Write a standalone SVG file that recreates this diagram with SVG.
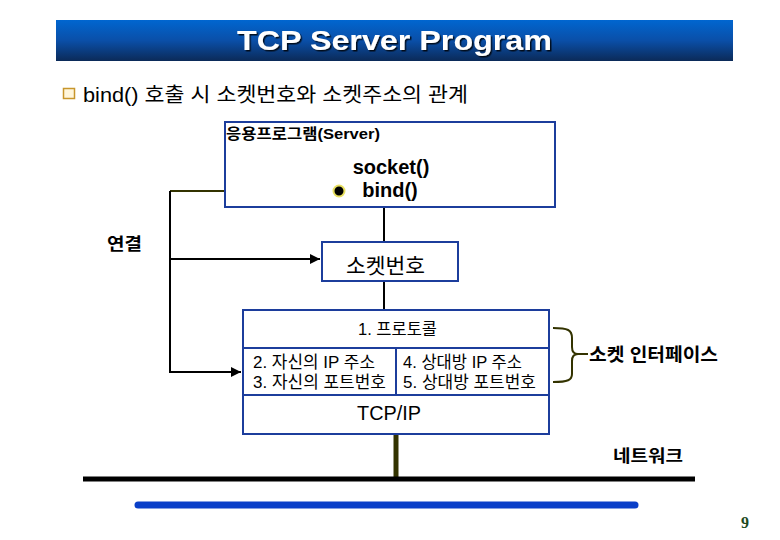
<svg xmlns="http://www.w3.org/2000/svg" width="780" height="540" viewBox="0 0 780 540">
<defs>
<linearGradient id="tg" x1="0" y1="0" x2="0" y2="1">
<stop offset="0" stop-color="#0066d0"/>
<stop offset="0.5" stop-color="#0a4fa8"/>
<stop offset="1" stop-color="#0b2a58"/>
</linearGradient>
<filter id="sh" x="-5%" y="-20%" width="110%" height="150%">
<feDropShadow dx="1.5" dy="1.5" stdDeviation="0.6" flood-color="#000" flood-opacity="0.8"/>
</filter>
<marker id="ah" viewBox="0 0 10 10" refX="10" refY="5" markerWidth="5" markerHeight="5" orient="auto" markerUnits="strokeWidth">
<path d="M0,0 L10,5 L0,10 z" fill="#000"/>
</marker>
</defs>
<style>
.k{font-family:"Liberation Sans","Noto Sans CJK KR",sans-serif;fill:#000}
.b{font-weight:bold}
.box{fill:#fff;stroke:#1c3d9c;stroke-width:2}
.ln{fill:none;stroke:#000;stroke-width:2}
.ol{fill:none;stroke:#333300;stroke-width:2}
.st{font-size:16.5px}
</style>
<rect width="780" height="540" fill="#fff"/>
<g id="title">
<rect x="56" y="20" width="677" height="41" fill="url(#tg)"/>
<text x="237" y="50" class="k b" style="font-size:28px;fill:#fff" filter="url(#sh)" textLength="315" lengthAdjust="spacingAndGlyphs">TCP Server Program</text>
</g>
<g id="heading">
<rect x="63.5" y="88.5" width="11" height="10" fill="#fff6dc" stroke="#c8962c" stroke-width="1.5"/>
<text x="83" y="102" class="k" style="font-size:20px" textLength="385" lengthAdjust="spacingAndGlyphs">bind() 호출 시 소켓번호와 소켓주소의 관계</text>
</g>
<g id="connectors">
<line x1="384" y1="207" x2="384" y2="242" class="ln"/>
<line x1="384" y1="281" x2="384" y2="310" class="ln"/>
<polyline points="339,191 170,191" class="ol"/>
<polyline points="170,191 170,372 241,372" class="ln" marker-end="url(#ah)"/>
<polyline points="170,259 320,259" class="ln" marker-end="url(#ah)"/>
<line x1="396" y1="434" x2="396" y2="479" stroke="#333300" stroke-width="5"/>
<path d="M553,328 C568,328 572,330 572,338 L572,347 C572,352 574,354 578,354 C574,354 572,356 572,361 L572,374 C572,380 568,382 553,382" class="ol"/>
<line x1="578" y1="354" x2="588" y2="354" class="ol"/>
</g>
<g id="app">
<rect x="225" y="122" width="330" height="85" class="box"/>
<text x="226" y="139" class="k b" style="font-size:15px" textLength="154" lengthAdjust="spacingAndGlyphs">응용프로그램(Server)</text>
<text x="391" y="174" text-anchor="middle" class="k b" style="font-size:20px">socket()</text>
<text x="390" y="197" text-anchor="middle" class="k b" style="font-size:20px">bind()</text>
<circle cx="339" cy="191" r="5.5" fill="#000" stroke="#e8e060" stroke-width="2"/>
</g>
<g id="label-connect">
<text x="107" y="250" class="k b" style="font-size:17px" textLength="35" lengthAdjust="spacingAndGlyphs">연결</text>
</g>
<g id="socketnum">
<rect x="322" y="242" width="136" height="39" class="box"/>
<text x="346" y="273" class="k" style="font-size:21px" textLength="79" lengthAdjust="spacingAndGlyphs">소켓번호</text>
</g>
<g id="stack">
<rect x="243" y="310" width="306" height="124" class="box"/>
<line x1="243" y1="348" x2="549" y2="348" stroke="#1c3d9c" stroke-width="2"/>
<line x1="243" y1="395" x2="549" y2="395" stroke="#1c3d9c" stroke-width="2"/>
<line x1="396" y1="348" x2="396" y2="395" stroke="#1c3d9c" stroke-width="2"/>
<text x="358" y="335" class="k st" textLength="79" lengthAdjust="spacingAndGlyphs">1. 프로토콜</text>
<text x="253" y="368" class="k st" textLength="122" lengthAdjust="spacingAndGlyphs">2. 자신의 IP 주소</text>
<text x="253" y="388" class="k st" textLength="133" lengthAdjust="spacingAndGlyphs">3. 자신의 포트번호</text>
<text x="403" y="368" class="k st" textLength="119" lengthAdjust="spacingAndGlyphs">4. 상대방 IP 주소</text>
<text x="403" y="388" class="k st" textLength="133" lengthAdjust="spacingAndGlyphs">5. 상대방 포트번호</text>
<text x="357" y="420" class="k" style="font-size:21px" textLength="64" lengthAdjust="spacingAndGlyphs">TCP/IP</text>
</g>
<g id="socket-interface">
<text x="589" y="361" class="k b" style="font-size:18px" textLength="129" lengthAdjust="spacingAndGlyphs">소켓 인터페이스</text>
</g>
<g id="network">
<text x="613" y="462" class="k b" style="font-size:17px" textLength="70" lengthAdjust="spacingAndGlyphs">네트워크</text>
<line x1="83" y1="479" x2="695" y2="479" stroke="#000" stroke-width="5"/>
</g>
<line x1="138" y1="505" x2="635" y2="505" stroke="#0a3fc8" stroke-width="7" stroke-linecap="round"/>
<text x="741" y="528" class="k b" style="font-family:'Liberation Serif',serif;font-size:16px;fill:#1e4a1e">9</text>
</svg>
